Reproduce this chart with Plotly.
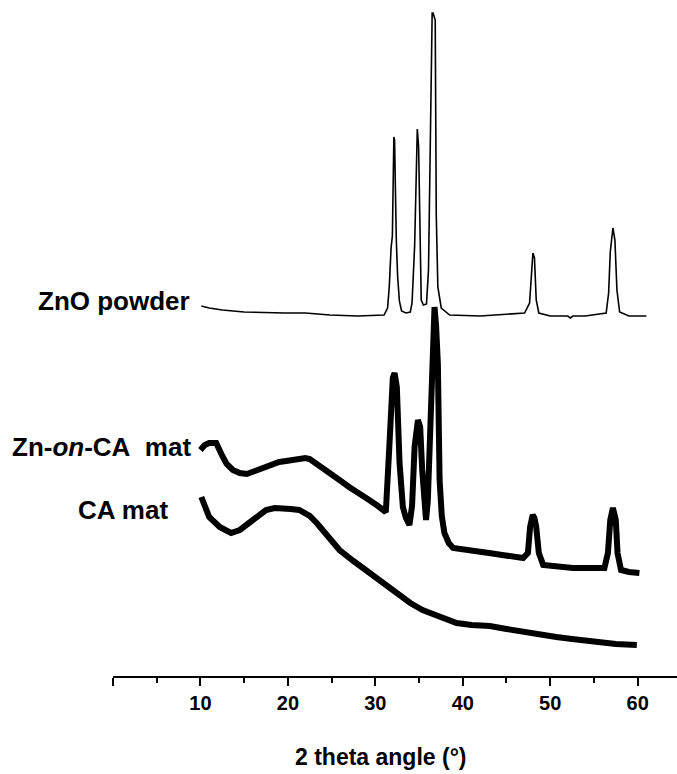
import plotly.graph_objects as go

# ---- data (intensity in arbitrary units, offset per trace) ----
zno_x = [10.1, 11.0, 12.5, 15.0, 19.6, 22.0, 24.8, 28.0, 31.0, 31.4, 31.6, 31.8, 31.95, 32.05, 32.12,
         32.2, 32.3, 32.4, 32.55, 32.75, 33.0, 33.5, 34.0, 34.2, 34.5, 34.7, 34.8, 34.95, 35.06, 35.25,
         35.5, 35.85, 36.08, 36.28, 36.5, 36.6, 36.85, 36.97, 37.15, 37.54, 38.5, 42.0, 47.07, 47.64,
         47.83, 48.02, 48.2, 48.4, 48.7, 50.0, 52.0, 52.3, 52.6, 54.0, 56.4, 56.68, 56.87, 57.17, 57.4,
         57.63, 57.94, 59.0, 61.0]
zno_y = [370, 368, 366, 364, 363, 363, 361, 360, 361, 368, 390, 428, 440, 500, 539,
         536, 470, 436, 400, 375, 365, 363, 364, 373, 431, 529, 547, 529, 463, 376,
         371, 372, 406, 514, 663, 663, 656, 461, 389, 368, 361, 360, 363, 373,
         401, 423, 418, 376, 363, 360, 360, 358, 360, 360, 363, 383, 424, 448, 436,
         386, 364, 360, 360]

zn_ca_x = [10.0, 10.5, 11.0, 11.8, 12.5, 13.0, 13.7, 14.5, 15.3, 16.2, 17.1, 18.0, 19.0, 19.8, 20.5,
           21.3, 22.0, 22.5, 23.2, 24.0, 24.8, 25.9, 27.0, 28.1, 29.3, 30.3, 31.2, 31.6, 31.8, 32.0,
           32.2, 32.46, 32.77, 33.15, 33.5, 33.9, 34.2, 34.49, 34.87, 35.13, 35.36, 35.6, 35.8, 36.0,
           36.2, 36.4, 36.6, 36.77, 36.95, 37.15, 37.35, 37.6, 37.9, 38.4, 38.9, 40.0, 41.5, 43.0,
           44.5, 46.0, 46.9, 47.45, 47.7, 48.0, 48.2, 48.4, 48.7, 49.2, 50.0, 51.0, 52.6, 54.0, 55.2,
           56.2, 56.6, 56.87, 57.17, 57.5, 57.7, 58.1, 59.0, 59.8, 60.2]
zn_ca_y = [226, 231, 233, 233, 220, 212, 206, 203, 202, 205, 209, 212, 214, 215, 216,
           217, 218, 217, 213, 208, 204, 196, 189, 182, 176, 170, 164, 229, 289, 298,
           303, 289, 213, 169, 158, 151, 170, 229, 256, 249, 206, 170, 156, 175,
           223, 306, 360, 369, 350, 313, 196, 160, 143, 133, 128, 127, 125, 123,
           121, 119, 118, 123, 149, 161, 158, 149, 123, 111, 110, 109, 108, 108, 108,
           108, 123, 156, 168, 156, 123, 106, 104, 103, 103]

ca_x = [10.1, 10.5, 11.0, 12.2, 13.5, 14.5, 15.6, 16.5, 17.5, 18.5, 19.4, 20.3, 21.3, 22.5, 23.3,
        24.0, 24.5, 25.9, 27.5, 29.3, 30.8, 32.4, 34.0, 35.4, 36.2, 37.7, 39.3, 41.0, 43.1, 45.0,
        46.9, 48.8, 50.7, 52.5, 55.3, 57.5, 59.9]
ca_y = [179, 168, 159, 149, 143, 146, 153, 160, 166, 168, 168, 167, 166, 160, 153,
        146, 141, 126, 115, 103, 93, 83, 73, 66, 63, 59, 53, 51, 50, 47,
        44, 41, 39, 37, 34, 32, 31]

x_tick_vals = [0, 10, 20, 30, 40, 50, 60]
x_tick_text = ["", "10", "20", "30", "40", "50", "60"]
x_minor_vals = [5, 15, 25, 35, 45, 55]

labels = ["ZnO powder", "Zn-<i>on</i>-CA\u00a0 mat", "CA mat"]
x_title = "2 theta angle (°)"

FONT = "Liberation Sans"

fig = go.Figure()
fig.add_trace(go.Scatter(x=ca_x, y=ca_y, mode="lines", line=dict(color="black", width=6)))
fig.add_trace(go.Scatter(x=zn_ca_x, y=zn_ca_y, mode="lines", line=dict(color="black", width=6)))
fig.add_trace(go.Scatter(x=zno_x, y=zno_y, mode="lines", line=dict(color="black", width=1.6)))

fig.update_xaxes(
    range=[0, 64.5], showline=True, linecolor="black", linewidth=1.5,
    ticks="outside", ticklen=8, tickwidth=1.5, tickcolor="black",
    tickvals=x_tick_vals, ticktext=["<b>%s</b>" % t if t else "" for t in x_tick_text],
    tickfont=dict(family=FONT, size=20, color="black"),
    minor=dict(tickvals=x_minor_vals, ticks="outside", ticklen=5, tickwidth=1.5,
               tickcolor="black", showgrid=False),
    showgrid=False, zeroline=False,
)
fig.update_yaxes(visible=False, range=[0, 676], showgrid=False, zeroline=False)

annots = [
    dict(x=9.0, y=375, text="<b>%s</b>" % labels[0]),
    dict(x=9.15, y=229, text="<b>%s</b>" % labels[1]),
    dict(x=6.5, y=166, text="<b>%s</b>" % labels[2]),
]
for a in annots:
    fig.add_annotation(xref="x", yref="y", xanchor="right", yanchor="middle", showarrow=False,
                       font=dict(family=FONT, size=26, color="black"), **a)
fig.add_annotation(xref="paper", yref="paper", x=0.475, y=-0.1198, xanchor="center", yanchor="middle",
                   showarrow=False, text="<b>%s</b>" % x_title,
                   font=dict(family=FONT, size=23, color="black"))

fig.update_layout(
    width=677, height=774, showlegend=False,
    margin=dict(l=113, r=0, t=0, b=98),
    plot_bgcolor="white", paper_bgcolor="white",
)
fig.write_html("out.html", config={"displayModeBar": False},
               post_script="document.body.style.margin='0';document.body.style.overflow='hidden';")
